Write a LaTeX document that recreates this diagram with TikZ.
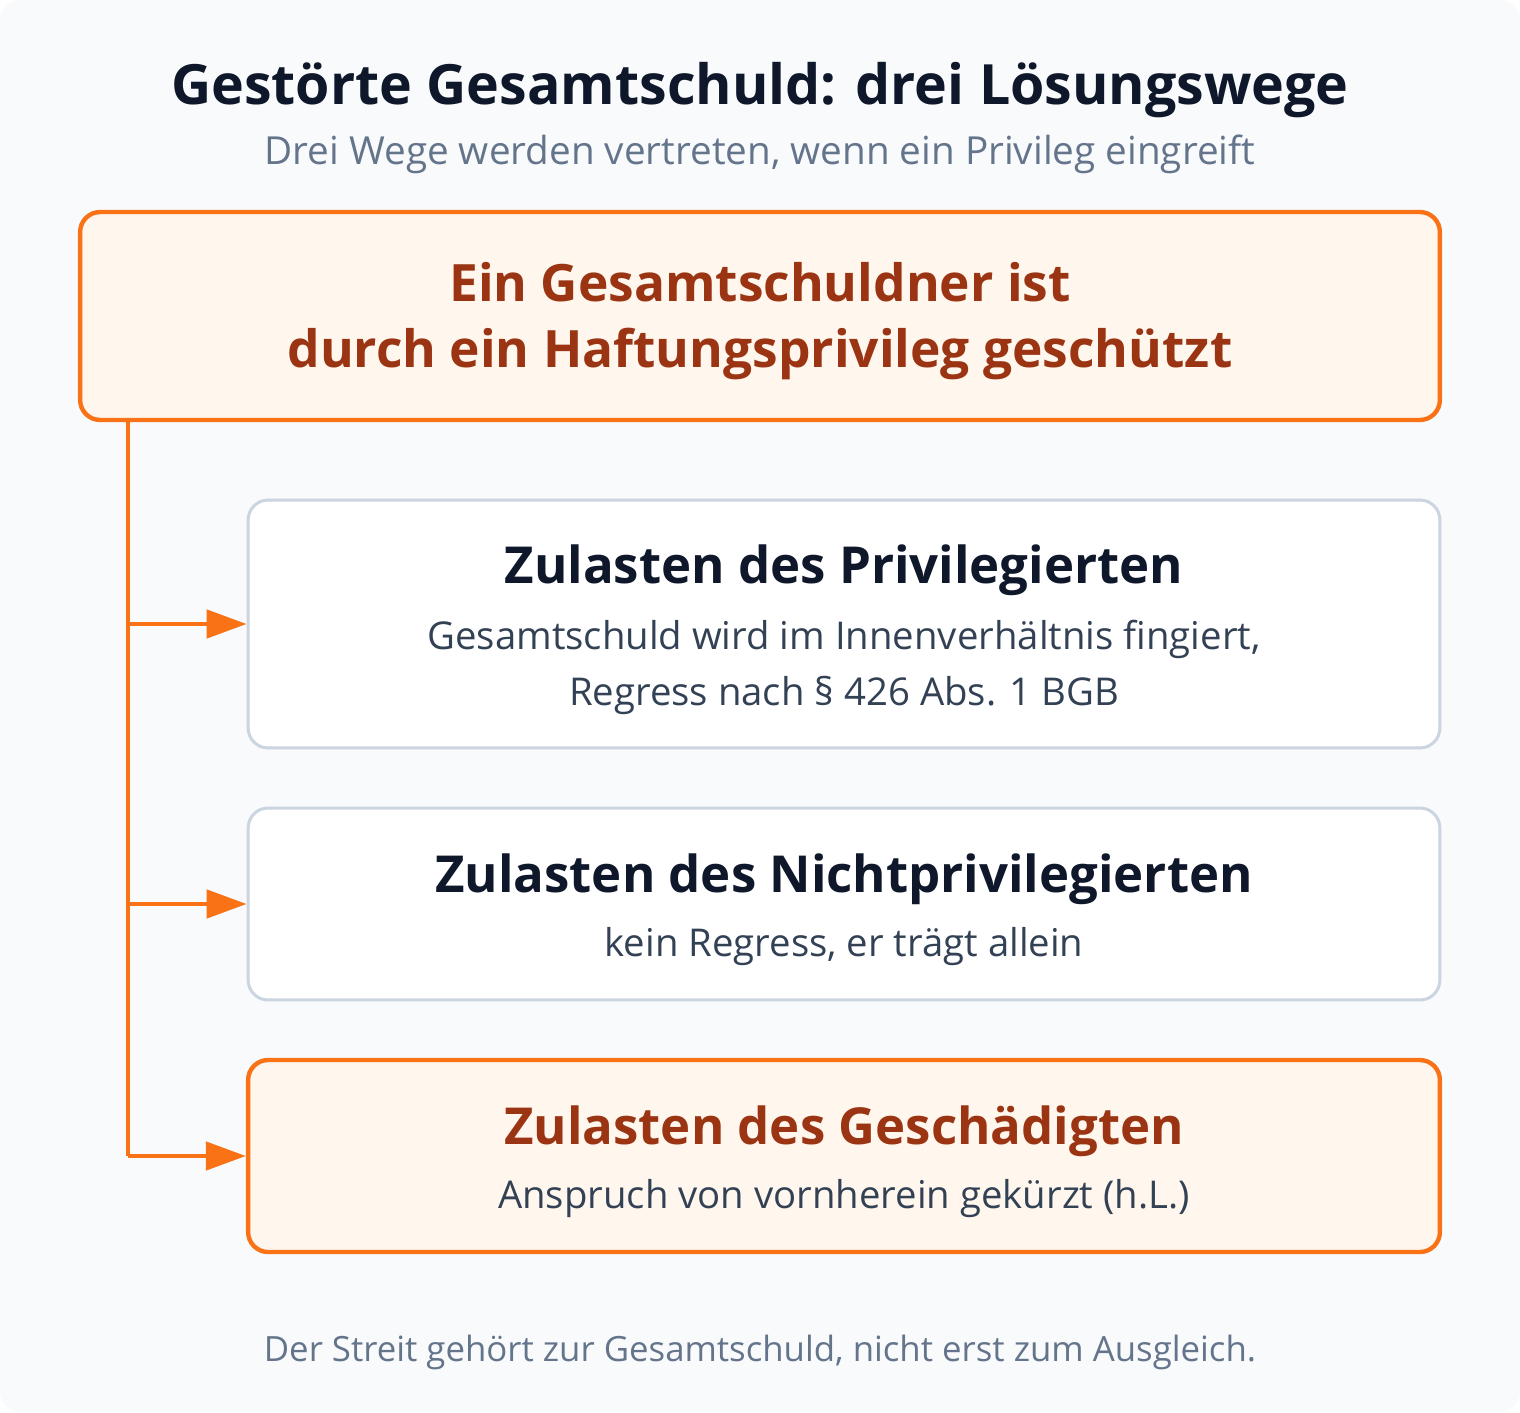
\documentclass[tikz,border=0pt]{standalone}
\usepackage{fontspec}
\setmainfont{Open Sans}
\usetikzlibrary{arrows.meta}
\definecolor{bgcol}{HTML}{F8FAFC}
\definecolor{ink}{HTML}{0F172A}
\definecolor{muted}{HTML}{64748B}
\definecolor{body}{HTML}{334155}
\definecolor{edge}{HTML}{CBD5E1}
\definecolor{accent}{HTML}{F97316}
\definecolor{accentfill}{HTML}{FFF7ED}
\definecolor{accentink}{HTML}{9A3412}
\begin{document}
\begin{tikzpicture}
  [x=0.02cm, y=-0.02cm,
   plainbox/.style={draw=edge, line width=1.7pt, fill=white, rounded corners=0.4cm,
     minimum width=23.84cm, inner sep=0pt},
   hotbox/.style={draw=accent, line width=2.5pt, fill=accentfill, rounded corners=0.4cm,
     minimum width=23.84cm, inner sep=0pt},
   headtext/.style={font=\bfseries\fontsize{29}{32}\selectfont, text=ink},
   subtext/.style={font=\fontsize{21.8}{24}\selectfont, text=body},
   link/.style={accent, line width=2.6pt},
   tip/.style={link, -{Triangle[length=0.8cm, width=0.56cm]}}]
  \useasboundingbox (0,0) rectangle (1520,1412);
  \fill[bgcol, rounded corners=0.4cm] (0,0) rectangle (1520,1412);

  \node[font=\bfseries\fontsize{31.6}{34}\selectfont, text=ink] (title) at (760,90) {Gestörte Gesamtschuld: drei Lösungswege};
  \node[font=\fontsize{22}{24}\selectfont, text=muted] (subtitle) at (760,154) {Drei Wege werden vertreten, wenn ein Privileg eingreift};

  % privilege box
  \node[hotbox, minimum width=27.2cm, minimum height=4.16cm] (top) at (760,316) {};
  \node[headtext, font=\bfseries\fontsize{29.3}{32}\selectfont, text=accentink] (top1) at (760,282) {Ein Gesamtschuldner ist};
  \node[headtext, font=\bfseries\fontsize{29.3}{32}\selectfont, text=accentink] (top2) at (760,354) {durch ein Haftungsprivileg geschützt};

  % the three ways
  \node[plainbox, minimum height=4.96cm] (way1) at (844,624) {};
  \node[headtext] (way1a) at (844,570) {Zulasten des Privilegierten};
  \node[subtext] (way1b) at (844,639) {Gesamtschuld wird im Innenverhältnis fingiert,};
  \node[subtext] (way1c) at (844,695) {Regress nach § 426 Abs. 1 BGB};

  \node[plainbox, minimum height=3.84cm] (way2) at (844,904) {};
  \node[headtext] (way2a) at (844,879) {Zulasten des Nichtprivilegierten};
  \node[subtext] (way2b) at (844,947) {kein Regress, er trägt allein};

  \node[hotbox, minimum height=3.84cm] (way3) at (844,1156) {};
  \node[headtext, text=accentink] (way3a) at (844,1131) {Zulasten des Geschädigten};
  \node[subtext] (way3b) at (844,1199) {Anspruch von vornherein gekürzt (h.L.)};

  \node[font=\fontsize{19.8}{24}\selectfont, text=muted] (note) at (760,1352) {Der Streit gehört zur Gesamtschuld, nicht erst zum Ausgleich.};

  % connectors
  \coordinate (j1) at (128,624);
  \coordinate (j2) at (128,904);
  \coordinate (j3) at (128,1156);
  \draw[link] (top.south -| j1) -- (j3);
  \draw[tip] (j1) -- (way1.west);
  \draw[tip] (j2) -- (way2.west);
  \draw[tip] (j3) -- (way3.west);
\end{tikzpicture}
\end{document}
